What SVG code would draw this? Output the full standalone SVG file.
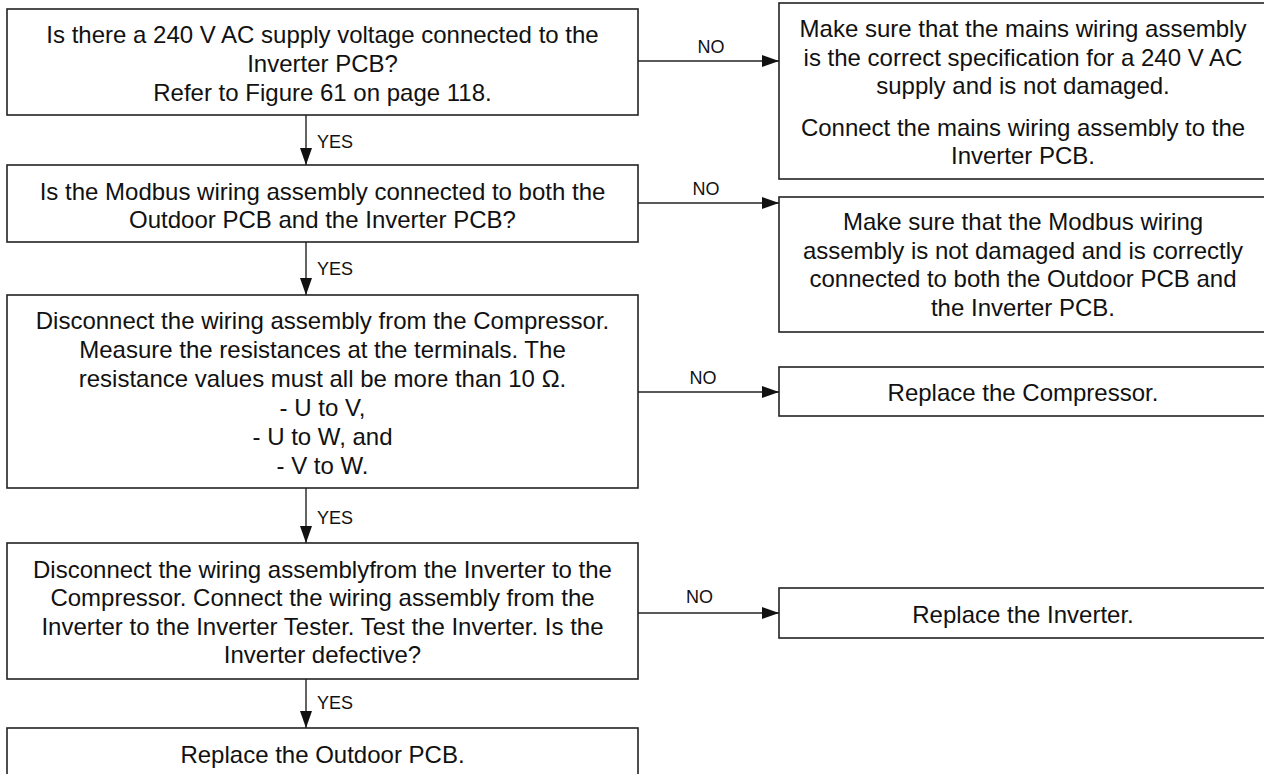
<svg xmlns="http://www.w3.org/2000/svg" width="1264" height="774" viewBox="0 0 1264 774">
  <style>
    .box { fill: #ffffff; stroke: #222222; stroke-width: 1.6; }
    .t { font-family: "Liberation Sans", Arial, sans-serif; font-size: 24px; fill: #111111; text-anchor: middle; }
    .lbl { font-family: "Liberation Sans", Arial, sans-serif; font-size: 18px; fill: #111111; }
    .c { stroke: #222222; stroke-width: 1.4; fill: none; marker-end: url(#arrow); }
  </style>
  <defs>
    <marker id="arrow" markerUnits="userSpaceOnUse" markerWidth="17" markerHeight="12" refX="17" refY="6" orient="auto">
      <path d="M0,0 L17,6 L0,12 z" fill="#111111"/>
    </marker>
  </defs>
  <rect width="1264" height="774" fill="#ffffff"/>

  <g id="q1">
    <rect class="box" x="7" y="9" width="631" height="106"/>
    <text class="t" x="322.5" y="43">Is there a 240 V AC supply voltage connected to the</text>
    <text class="t" x="322.5" y="72">Inverter PCB?</text>
    <text class="t" x="322.5" y="101">Refer to Figure 61 on page 118.</text>
  </g>

  <g id="q2">
    <rect class="box" x="7" y="165" width="631" height="77"/>
    <text class="t" x="322.5" y="199.5">Is the Modbus wiring assembly connected to both the</text>
    <text class="t" x="322.5" y="228">Outdoor PCB and the Inverter PCB?</text>
  </g>

  <g id="q3">
    <rect class="box" x="7" y="295" width="631" height="193"/>
    <text class="t" x="322.5" y="329">Disconnect the wiring assembly from the Compressor.</text>
    <text class="t" x="322.5" y="358">Measure the resistances at the terminals. The</text>
    <text class="t" x="322.5" y="387">resistance values must all be more than 10 Ω.</text>
    <text class="t" x="322.5" y="415.5">- U to V,</text>
    <text class="t" x="322.5" y="444.5">- U to W, and</text>
    <text class="t" x="322.5" y="473.5">- V to W.</text>
  </g>

  <g id="q4">
    <rect class="box" x="7" y="543" width="631" height="136"/>
    <text class="t" x="322.5" y="577.5">Disconnect the wiring assemblyfrom the Inverter to the</text>
    <text class="t" x="322.5" y="606">Compressor. Connect the wiring assembly from the</text>
    <text class="t" x="322.5" y="634.5">Inverter to the Inverter Tester. Test the Inverter. Is the</text>
    <text class="t" x="322.5" y="663">Inverter defective?</text>
  </g>

  <g id="a5">
    <rect class="box" x="7" y="728" width="631" height="60"/>
    <text class="t" x="322.5" y="763">Replace the Outdoor PCB.</text>
  </g>

  <g id="r1">
    <rect class="box" x="779" y="3" width="488" height="176"/>
    <text class="t" x="1023" y="37">Make sure that the mains wiring assembly</text>
    <text class="t" x="1023" y="65.5">is the correct specification for a 240 V AC</text>
    <text class="t" x="1023" y="94">supply and is not damaged.</text>
    <text class="t" x="1023" y="135.5">Connect the mains wiring assembly to the</text>
    <text class="t" x="1023" y="163.5">Inverter PCB.</text>
  </g>

  <g id="r2">
    <rect class="box" x="779" y="197" width="488" height="135"/>
    <text class="t" x="1023" y="230">Make sure that the Modbus wiring</text>
    <text class="t" x="1023" y="258.7">assembly is not damaged and is correctly</text>
    <text class="t" x="1023" y="287.4">connected to both the Outdoor PCB and</text>
    <text class="t" x="1023" y="316">the Inverter PCB.</text>
  </g>

  <g id="r3">
    <rect class="box" x="779" y="367" width="488" height="49"/>
    <text class="t" x="1023" y="401">Replace the Compressor.</text>
  </g>

  <g id="r4">
    <rect class="box" x="779" y="588" width="488" height="50"/>
    <text class="t" x="1023" y="622.5">Replace the Inverter.</text>
  </g>

  <g id="connectors">
    <line class="c" x1="306" y1="115" x2="306" y2="165"/>
    <line class="c" x1="306" y1="242" x2="306" y2="295"/>
    <line class="c" x1="306" y1="488" x2="306" y2="543"/>
    <line class="c" x1="306" y1="679" x2="306" y2="728"/>
    <line class="c" x1="638" y1="61" x2="779" y2="61"/>
    <line class="c" x1="638" y1="203" x2="779" y2="203"/>
    <line class="c" x1="638" y1="392" x2="779" y2="392"/>
    <line class="c" x1="638" y1="613" x2="779" y2="613"/>
    <text class="lbl" x="317" y="148">YES</text>
    <text class="lbl" x="317" y="275">YES</text>
    <text class="lbl" x="317" y="524">YES</text>
    <text class="lbl" x="317" y="709">YES</text>
    <text class="lbl" x="711" y="53" text-anchor="middle">NO</text>
    <text class="lbl" x="706" y="195" text-anchor="middle">NO</text>
    <text class="lbl" x="703" y="383.5" text-anchor="middle">NO</text>
    <text class="lbl" x="699.5" y="602.5" text-anchor="middle">NO</text>
  </g>
</svg>
